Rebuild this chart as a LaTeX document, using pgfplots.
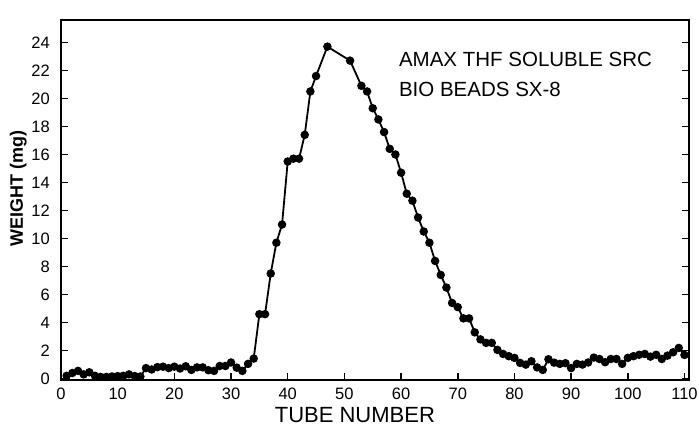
\documentclass[border=0pt]{standalone}
\usepackage{fontspec}
\setmainfont{Liberation Sans}
\usepackage{pgfplots}
\pgfplotsset{compat=1.18}
\begin{document}
\begin{tikzpicture}
\useasboundingbox (-61pt,-52pt) rectangle (638pt,380pt);
\begin{axis}[
  at={(0pt,0pt)}, anchor=south west,
  scale only axis, width=628pt, height=360pt,
  xmin=0, xmax=110.8, ymin=-0.1, ymax=25.6,
  xtick={0,10,...,110}, ytick={0,2,...,24},
  tick align=inside, major tick length=7pt,
  xtick pos=left, ytick pos=both, yticklabel pos=left,
  axis line style={line width=1.8pt},
  every tick/.style={line width=1.5pt, black},
  /pgf/number format/assume math mode=true,
  ticklabel style={font=\fontsize{16.5}{18}\selectfont},
  xticklabel style={inner sep=0pt, yshift=-8pt},
  yticklabel style={inner sep=0pt, xshift=-11pt},
  xlabel={TUBE NUMBER}, ylabel={WEIGHT (mg)},
  xlabel style={font=\fontsize{22}{26}\selectfont, at={(axis description cs:0.468,-0.075)}, anchor=north, inner sep=0pt},
  ylabel style={font=\bfseries\fontsize{18}{22}\selectfont, at={(axis description cs:-0.068,0.532)}, anchor=center, inner sep=0pt},
  clip=false,
]
\addplot[black, line width=1.8pt, mark=*, mark size=3.3pt, mark options={solid, fill=black}] coordinates {
(1,0.2) (2,0.4) (3,0.55) (4,0.3) (5,0.45) (6,0.2) (7,0.12) (8,0.12) (9,0.15) (10,0.18)
(11,0.2) (12,0.3) (13,0.18) (14,0.15) (15,0.75) (16,0.65) (17,0.82) (18,0.85) (19,0.75) (20,0.85)
(21,0.72) (22,0.88) (23,0.62) (24,0.8) (25,0.8) (26,0.6) (27,0.55) (28,0.9) (29,0.9) (30,1.15)
(31,0.78) (32,0.55) (33,1.05) (34,1.43) (35,4.6) (36,4.6) (37,7.5) (38,9.7) (39,11.0) (40,15.5)
(41,15.7) (42,15.7) (43,17.4) (44,20.5) (45,21.6) (47,23.7) (51,22.7) (53,20.9) (54,20.5) (55,19.3)
(56,18.5) (57,17.6) (58,16.4) (59,16.0) (60,14.7) (61,13.2) (62,12.7) (63,11.5) (64,10.5) (65,9.7)
(66,8.4) (67,7.4) (68,6.5) (69,5.4) (70,5.1) (71,4.3) (72,4.3) (73,3.3) (74,2.8) (75,2.55)
(76,2.55) (77,2.05) (78,1.76) (79,1.6) (80,1.48) (81,1.12) (82,1.0) (83,1.24) (84,0.8) (85,0.62)
(86,1.38) (87,1.14) (88,1.05) (89,1.1) (90,0.75) (91,1.05) (92,1.0) (93,1.15) (94,1.5) (95,1.4)
(96,1.17) (97,1.4) (98,1.4) (99,1.05) (100,1.48) (101,1.6) (102,1.7) (103,1.76) (104,1.57) (105,1.7)
(106,1.4) (107,1.64) (108,1.88) (109,2.19) (110,1.69)
};
\node[anchor=north west, inner sep=0pt, font=\fontsize{20.5}{22}\selectfont] at (axis description cs:0.538,0.911) {AMAX THF SOLUBLE SRC};
\node[anchor=north west, inner sep=0pt, font=\fontsize{20.5}{22}\selectfont] at (axis description cs:0.538,0.828) {BIO BEADS SX-8};
\end{axis}
\end{tikzpicture}
\end{document}
